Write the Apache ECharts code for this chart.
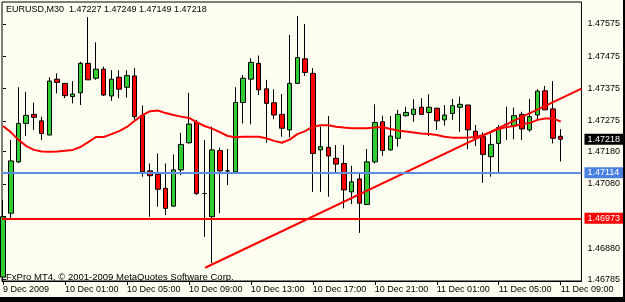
<!DOCTYPE html>
<html><head><meta charset="utf-8">
<script src="https://cdn.jsdelivr.net/npm/echarts@6/dist/echarts.min.js"></script>
<style>
html,body{margin:0;padding:0;background:#000;width:625px;height:302px;overflow:hidden}
#c{position:absolute;left:0;top:0;width:623px;height:297px}
</style>
</head><body><div id="c"></div>
<script>
// ---- data (EURUSD M30, 9 Dec 2009 21:00 .. 11 Dec 2009 09:00) ----
const xTickIdx = [0, 8, 16, 24, 32, 40, 48, 56, 64, 72];
const xLabels = ['9 Dec 2009', '10 Dec 01:00', '10 Dec 05:00', '10 Dec 09:00', '10 Dec 13:00',
  '10 Dec 17:00', '10 Dec 21:00', '11 Dec 01:00', '11 Dec 05:00', '11 Dec 09:00'];
const yTicks = [1.47575, 1.47475, 1.47375, 1.47275, 1.47180, 1.47080, 1.46980, 1.46880, 1.46785];

const opens = [1.46791,1.46989,1.47148,1.47267,1.47295,1.47275,1.47231,1.47404,1.47391,1.47350,
1.47362,1.47453,1.47407,1.47435,1.47352,1.47410,1.47379,1.47414,1.47292,1.47120,
1.47110,1.47066,1.47011,1.47123,1.47207,1.47271,1.47050,1.46978,1.47183,1.47120,
1.47117,1.47332,1.47404,1.47453,1.47374,1.47331,1.47295,1.47247,1.47391,1.47467,
1.47422,1.47185,1.47193,1.47159,1.47143,1.47055,1.47095,1.47016,1.47148,1.47272,
1.47185,1.47221,1.47291,1.47295,1.47317,1.47301,1.47314,1.47278,1.47298,1.47317,
1.47324,1.47243,1.47226,1.47164,1.47205,1.47264,1.47259,1.47295,1.47247,1.47293,
1.47368,1.47312,1.47227];
const closes = [1.46978,1.47151,1.47267,1.47292,1.47286,1.47236,1.47398,1.47394,1.47353,1.47358,
1.47453,1.47402,1.47435,1.47355,1.47404,1.47373,1.47415,1.47288,1.47117,1.47105,
1.47063,1.47004,1.47123,1.47202,1.47265,1.47050,1.47050,1.47185,1.47120,1.47120,
1.47332,1.47407,1.47456,1.47371,1.47329,1.47293,1.47252,1.47391,1.47471,1.47425,
1.47174,1.47195,1.47166,1.47141,1.47061,1.47086,1.47020,1.47148,1.47270,1.47183,
1.47228,1.47295,1.47301,1.47311,1.47295,1.47317,1.47275,1.47293,1.47322,1.47326,
1.47247,1.47221,1.47171,1.47202,1.47254,1.47265,1.47291,1.47250,1.47288,1.47367,
1.47309,1.47221,1.47218];
const highs = [1.47030,1.47216,1.47379,1.47365,1.47331,1.47288,1.47410,1.47422,1.47392,1.47398,
1.47458,1.47596,1.47518,1.47443,1.47432,1.47432,1.47432,1.47438,1.47323,1.47143,
1.47174,1.47143,1.47171,1.47238,1.47362,1.47278,1.47216,1.47257,1.47192,1.47188,
1.47379,1.47417,1.47469,1.47477,1.47402,1.47373,1.47358,1.47541,1.47600,1.47575,
1.47438,1.47257,1.47290,1.47200,1.47200,1.47136,1.47116,1.47188,1.47326,1.47291,
1.47290,1.47309,1.47319,1.47342,1.47345,1.47357,1.47316,1.47324,1.47343,1.47350,
1.47324,1.47262,1.47239,1.47236,1.47262,1.47319,1.47316,1.47303,1.47343,1.47373,
1.47383,1.47398,1.47249];
const lows = [1.46780,1.46974,1.47144,1.47228,1.47247,1.47216,1.47231,1.47360,1.47345,1.47329,
1.47324,1.47402,1.47402,1.47352,1.47337,1.47345,1.47347,1.47278,1.47102,1.46978,
1.47009,1.46983,1.47009,1.47107,1.47205,1.47045,1.46916,1.46834,1.46989,1.47076,
1.47117,1.47267,1.47264,1.47355,1.47207,1.47280,1.47226,1.47224,1.47389,1.47414,
1.47055,1.47055,1.47040,1.47114,1.47004,1.47017,1.46928,1.47014,1.47143,1.47167,
1.47183,1.47195,1.47288,1.47272,1.47295,1.47228,1.47247,1.47260,1.47278,1.47241,
1.47187,1.47197,1.47083,1.47102,1.47117,1.47216,1.47218,1.47216,1.47241,1.47278,
1.47309,1.47205,1.47149];
const maValues = [1.47259,1.47240,1.47216,1.47197,1.47185,1.47180,1.47179,1.47180,1.47182,1.47185,
1.47194,1.47209,1.47225,1.47225,1.47234,1.47243,1.47256,1.47275,1.47293,1.47305,
1.47307,1.47299,1.47293,1.47288,1.47284,1.47271,1.47259,1.47251,1.47240,1.47228,
1.47224,1.47226,1.47226,1.47226,1.47221,1.47213,1.47207,1.47217,1.47234,1.47243,
1.47257,1.47261,1.47261,1.47257,1.47254,1.47252,1.47252,1.47252,1.47254,1.47256,
1.47250,1.47245,1.47242,1.47239,1.47236,1.47234,1.47231,1.47226,1.47223,1.47223,
1.47223,1.47225,1.47231,1.47240,1.47250,1.47256,1.47259,1.47265,1.47268,1.47278,
1.47282,1.47282,1.47273];
const trendIdx = [26.1, 74.68];
const trendVal = [1.46820, 1.47375];
const blueLevel = 1.47114;
const redLevel = 1.46973;
const lastPrice = 1.47218;
const symbolName = 'EURUSD,M30';
const copyright = 'FxPro MT4, \u00A9 2001-2009 MetaQuotes Software Corp.';

// ---- chart ----
const FONT = '"Liberation Sans", Arial, sans-serif';
const chart = echarts.init(document.getElementById('c'), null, {renderer: 'canvas'});
const n = opens.length;
const candles = opens.map((o, i) => [i, o, closes[i], lows[i], highs[i]]);
const maData = maValues.map((v, i) => [i, v]);
const trendData = trendIdx.map((x, i) => [x, trendVal[i]]);
const f5 = v => Number(v).toFixed(5);

function boxLabel(bg) {
  return {show: true, position: 'end', distance: 3, formatter: p => f5(p.value),
    color: '#fff', backgroundColor: bg, padding: [1, 6, 1, 3],
    fontFamily: FONT, fontSize: 9};
}

chart.setOption({
  animation: false,
  backgroundColor: '#fdfdf0',
  title: [
    {text: symbolName + '  ' + [opens[n-1], highs[n-1], lows[n-1], closes[n-1]].map(f5).join(' '),
     left: 6, top: 5, padding: 0,
     textStyle: {fontFamily: FONT, fontSize: 9, fontWeight: 'normal', color: '#000'}},
    {text: copyright, left: 6, top: 272, padding: 0,
     textStyle: {fontFamily: FONT, fontSize: 9.5, fontWeight: 'normal', color: '#000'}}
  ],
  grid: {left: 2, top: 2, width: 582, height: 279, show: true, borderColor: '#000', borderWidth: 1,
    backgroundColor: 'transparent', containLabel: false},
  xAxis: {
    type: 'value', min: -0.13, max: 74.68,
    axisLine: {show: true, onZero: false, lineStyle: {color: '#000', width: 1}},
    axisTick: {show: true, customValues: xTickIdx, length: 4, lineStyle: {color: '#000'}},
    axisLabel: {show: true, customValues: xTickIdx, margin: 4, align: 'left',
      formatter: v => xLabels[xTickIdx.indexOf(Math.round(v))] || '',
      fontFamily: FONT, fontSize: 9, color: '#000'},
    splitLine: {show: false}
  },
  yAxis: {
    type: 'value', position: 'right', min: 1.46779, max: 1.47643, scale: true,
    axisLine: {show: false},
    axisTick: {show: true, customValues: yTicks, length: 3, lineStyle: {color: '#000'}},
    axisLabel: {show: true, customValues: yTicks, margin: 6, formatter: v => f5(v),
      fontFamily: FONT, fontSize: 9, color: '#000'},
    splitLine: {show: false}
  },
  series: [
    {type: 'candlestick', data: candles, encode: {x: 0, y: [1, 2, 3, 4]}, barWidth: 5,
     itemStyle: {color: '#33cc33', color0: '#ff0000', borderColor: '#000', borderColor0: '#000', borderWidth: 1},
     z: 2},
    {type: 'line', data: maData, showSymbol: false, symbol: 'none',
     lineStyle: {color: '#ff0000', width: 2}, z: 3},
    {type: 'line', data: trendData, showSymbol: false, symbol: 'none', clip: true,
     lineStyle: {color: '#ff0000', width: 2}, z: 4,
     markLine: {silent: true, precision: 5, symbol: ['none', 'none'], z: 10,
       data: [
         {yAxis: blueLevel, lineStyle: {color: '#5b8fe3', width: 2, type: 'solid'}, label: boxLabel('#4a80e0')},
         {yAxis: redLevel, lineStyle: {color: '#ff0000', width: 2, type: 'solid'}, label: boxLabel('#ff0000')},
         {yAxis: lastPrice, lineStyle: {color: 'rgba(0,0,0,0)', width: 0}, label: boxLabel('#000')}
       ]}}
  ]
});
</script></body></html>
